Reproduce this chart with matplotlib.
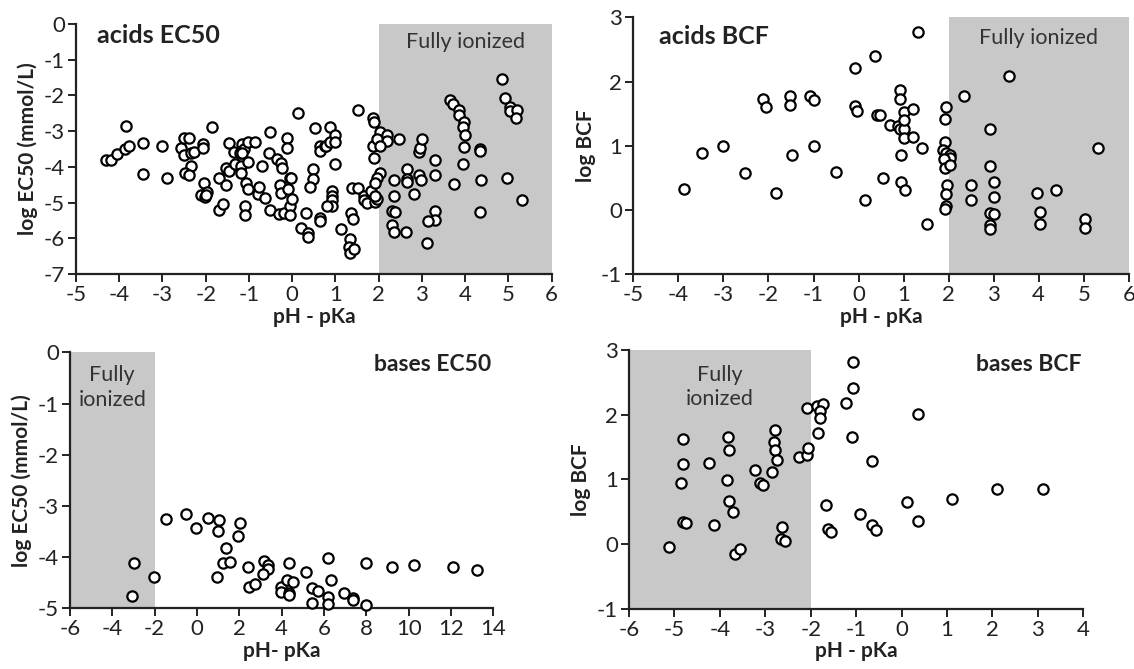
#pH - pKa scatter plots for acids and bases (EC50 and BCF)
import numpy as np
import matplotlib
matplotlib.use('Agg')
import matplotlib.pyplot as plt

plt.rcParams['font.family'] = ['Lato', 'DejaVu Sans']
plt.rcParams['axes.unicode_minus'] = False

#acids EC50
acid_ec50_x = [-4.30, -4.19, -4.06, -3.86, -3.77, -3.85, -3.46, -3.46, -3.00, -2.89,
               -2.56, -2.50, -2.39, -2.50, -2.34, -2.27, -2.34, -2.48, -2.39, -2.06,
               -2.06, -1.85, -2.04, -2.12, -2.02, -1.96, -1.99, -1.69, -1.69, -1.60,
               -1.52, -1.52, -1.47, -1.46, -1.35, -1.33, -1.21, -1.19, -1.19, -1.15,
               -1.11, -1.15, -1.03, -0.86, -1.03, -1.06, -1.03, -1.09, -1.09, -0.80,
               -0.76, -0.71, -0.62, -0.52, -0.53, -0.52, -0.36, -0.29, -0.25, -0.25,
               -0.23, -0.30, -0.19, -0.13, -0.13, -0.09, -0.05, -0.03, -0.05, -0.05,
               0.00, 0.14, 0.20, 0.31, 0.36, 0.36, 0.52,
               0.48, 0.48, 0.41, 0.65, 0.65, 0.75, 0.79, 0.87, 0.88, 1.00,
               1.00, 1.00, 0.92, 0.92, 0.92, 0.92, 0.81, 0.65, 0.65, 1.12,
               1.35, 1.41, 1.33, 1.31, 1.33, 1.42, 1.52, 1.39, 1.52, 1.65,
               1.65, 1.73, 1.82, 1.91, 1.96, 1.92, 1.87, 1.90, 2.04, 2.19,
               2.20, 1.87, 1.96, 2.04, 1.90, 2.02, 1.96, 1.92, 2.46, 2.35,
               2.35, 2.31, 2.37, 2.31, 2.35, 2.62, 2.66, 2.66, 2.66, 2.81,
               2.93, 2.96, 3.00, 2.94, 2.98, 3.31, 3.31, 3.31, 3.31, 3.13,
               3.12, 3.66, 3.71, 3.85, 3.85, 3.97, 3.95, 4.00, 3.97, 3.95,
               3.75, 4.34, 4.34, 4.37, 4.34, 4.85, 4.91, 5.04, 5.04, 5.20,
               5.18, 4.97, 5.31]
acid_ec50_y = [-3.81, -3.81, -3.64, -3.50, -3.41, -2.85, -3.32, -4.21, -3.41, -4.31,
               -3.48, -3.18, -3.18, -3.67, -3.62, -3.58, -3.97, -4.16, -4.22, -3.36,
               -3.48, -2.88, -4.44, -4.79, -4.83, -4.69, -4.79, -4.30, -5.22, -5.03,
               -4.50, -4.02, -4.11, -3.32, -3.57, -3.93, -3.62, -3.97, -4.16, -3.36,
               -3.50, -3.60, -3.29, -3.29, -3.85, -4.44, -4.61, -5.09, -5.35, -4.75,
               -4.56, -3.97, -4.88, -3.01, -3.60, -5.21, -3.79, -4.50, -4.72, -3.88,
               -4.02, -5.33, -5.28, -3.18, -3.48, -4.61, -4.30, -4.32, -5.09, -5.36,
               -4.89, -2.48, -5.70, -5.29, -5.84, -5.95, -2.92,
               -4.05, -4.35, -4.56, -3.41, -3.55, -3.41, -3.41, -2.88, -3.30, -3.11,
               -3.30, -3.93, -4.67, -4.81, -4.93, -5.09, -5.09, -5.42, -5.51, -5.75,
               -5.28, -5.45, -6.03, -6.24, -6.40, -6.31, -2.41, -4.60, -4.58, -4.81,
               -4.93, -5.00, -4.67, -4.97, -4.91, -4.81, -2.62, -2.74, -3.02, -3.11,
               -3.27, -3.41, -3.22, -3.41, -3.74, -4.16, -4.32, -4.44, -3.21, -4.37,
               -4.81, -5.23, -5.26, -5.64, -5.82, -5.82, -4.05, -4.33, -4.42, -4.75,
               -3.58, -3.48, -3.21, -4.23, -4.36, -3.81, -4.23, -5.23, -5.49, -5.51,
               -6.12, -2.13, -2.24, -2.41, -2.55, -2.74, -2.88, -3.11, -3.44, -3.93,
               -4.49, -3.49, -3.55, -4.37, -5.26, -1.54, -2.06, -2.31, -2.43, -2.41,
               -2.62, -4.30, -4.93]

#acids BCF
acid_bcf_x = [-3.87, -3.47, -3.00, -2.51, -2.12, -2.05, -1.84, -1.53, -1.53, -1.48,
              -1.08, -0.99, -0.99, -0.50, -0.07, -0.07, -0.03,
              0.37, 1.33, 0.91, 0.91, 0.41, 0.48, 0.70, 0.87, 0.91, 1.01,
              1.02, 1.02, 1.21, 1.02, 1.21, 1.42, 0.94, 0.15, 0.54, 0.94,
              1.04, 1.52, 1.95, 1.91, 1.92, 1.87, 1.95, 2.03, 2.03, 1.89,
              1.91, 2.02, 1.96, 1.95, 1.95, 1.91, 2.35, 3.33, 2.91, 2.91,
              3.01, 3.01, 2.50, 2.50, 2.92, 3.00, 2.92, 2.91, 3.96, 4.39,
              4.03, 4.03, 5.03, 5.03, 5.31]
acid_bcf_y = [0.33, 0.88, 0.99, 0.57, 1.72, 1.60, 0.27, 1.77, 1.64, 0.85,
              1.78, 1.71, 0.99, 0.59, 2.21, 1.62, 1.54,
              2.39, 2.77, 1.86, 1.73, 1.48, 1.48, 1.32, 1.31, 1.26, 1.26,
              1.53, 1.40, 1.57, 1.12, 1.14, 0.96, 0.85, 0.15, 0.49, 0.43,
              0.31, -0.22, 1.60, 1.42, 1.06, 0.94, 0.89, 0.85, 0.81, 0.79,
              0.65, 0.70, 0.38, 0.24, 0.06, 0.01, 1.77, 2.08, 1.26, 0.69,
              0.44, 0.20, 0.39, 0.15, -0.05, -0.07, -0.23, -0.30, 0.26, 0.31,
              -0.04, -0.22, -0.15, -0.28, 0.96]

#bases EC50
base_ec50_x = [-2.99, -3.05, -2.03, -1.45, -0.50, -0.03, 0.52, 1.04, 0.99, 2.01,
               1.93, 1.35, 1.23, 1.54, 0.94, 2.41, 2.48, 2.75, 3.19, 3.35,
               3.35, 3.11, 3.95, 3.95, 4.26, 4.37, 4.53, 4.37, 4.37, 5.13,
               5.42, 5.72, 5.42, 6.21, 6.31, 6.21, 6.21, 6.97, 7.36, 7.39,
               7.99, 7.99, 9.21, 10.27, 12.08, 13.25]
base_ec50_y = [-4.11, -4.75, -4.38, -3.26, -3.16, -3.44, -3.23, -3.27, -3.49, -3.34,
               -3.58, -3.83, -4.11, -4.09, -4.38, -4.20, -4.58, -4.52, -4.07, -4.15,
               -4.23, -4.32, -4.59, -4.69, -4.45, -4.11, -4.48, -4.71, -4.74, -4.30,
               -4.61, -4.66, -4.90, -4.02, -4.45, -4.77, -4.92, -4.71, -4.80, -4.84,
               -4.12, -4.93, -4.20, -4.15, -4.20, -4.26]

#bases BCF
base_bcf_x = [-5.11, -4.81, -4.81, -4.86, -4.82, -4.75, -4.23, -4.12, -3.82, -3.79,
              -3.85, -3.79, -3.72, -3.66, -3.56, -3.22, -3.11, -3.04, -2.86, -2.79,
              -2.80, -2.79, -2.74, -2.64, -2.66, -2.57, -2.25, -2.09, -2.07, -2.08,
              -1.87, -1.72, -1.80, -1.80, -1.83, -1.67, -1.63, -1.56, -1.23, -1.06,
              -1.06, -1.10, -0.91, -0.65, -0.65, -0.56, 0.11, 0.37, 0.37, 1.10,
              2.11, 3.12]
base_bcf_y = [-0.05, 1.62, 1.23, 0.95, 0.34, 0.32, 1.25, 0.30, 1.65, 1.45,
              0.99, 0.66, 0.50, -0.16, -0.07, 1.15, 0.94, 0.92, 1.12, 1.77,
              1.58, 1.45, 1.30, 0.26, 0.08, 0.04, 1.35, 1.37, 1.48, 2.10,
              2.13, 2.16, 2.06, 1.95, 1.72, 0.60, 0.24, 0.18, 2.18, 2.82,
              2.41, 1.65, 0.46, 1.28, 0.30, 0.22, 0.65, 2.01, 0.35, 0.70,
              0.85, 0.85]

shade = '#c8c8c8'
txt_gray = '#333333'

def style(ax, xlim, ylim, xstep, xlabel, ylabel):
    ax.set_xlim(xlim)
    ax.set_ylim(ylim)
    ax.set_xticks(np.arange(xlim[0], xlim[1] + 0.1, xstep))
    ax.set_yticks(np.arange(ylim[0], ylim[1] + 0.1, 1))
    for s in ['top', 'right']:
        ax.spines[s].set_visible(False)
    for s in ['left', 'bottom']:
        ax.spines[s].set_linewidth(1.6)
        ax.spines[s].set_color('#222222')
    ax.tick_params(direction='out', length=6, width=1.4, labelsize=16,
                   colors='#222222', pad=2)
    ax.set_xlabel(xlabel, fontsize=15, fontweight='bold', color='#222222', labelpad=1)
    ax.set_ylabel(ylabel, fontsize=15, fontweight='bold', color='#222222', labelpad=4)

def dots(ax, x, y):
    ax.scatter(x, y, s=55, facecolors='white', edgecolors='black',
               linewidths=1.6, zorder=3, clip_on=False)

fig = plt.figure(figsize=(11.34, 6.69), dpi=100)

#acids EC50
ax1 = fig.add_axes([0.067, 0.5904, 0.4195, 0.3737])
ax1.axvspan(2, 6, color=shade, zorder=0, lw=0)
dots(ax1, acid_ec50_x, acid_ec50_y)
style(ax1, (-5, 6), (-7, 0), 1, 'pH - pKa', 'log EC50 (mmol/L)')
ax1.text(0.044, 0.956, 'acids EC50', transform=ax1.transAxes, fontsize=18,
         fontweight='bold', va='center', ha='left', color='#222222')
ax1.text(4.0, 0.927, 'Fully ionized', transform=ax1.get_xaxis_transform(),
         fontsize=15.5, ha='center', va='center', color=txt_gray)

#acids BCF
ax2 = fig.add_axes([0.5585, 0.5904, 0.4369, 0.3837])
ax2.axvspan(2, 6, color=shade, zorder=0, lw=0)
dots(ax2, acid_bcf_x, acid_bcf_y)
style(ax2, (-5, 6), (-1, 3), 1, 'pH - pKa', 'log BCF')
ax2.text(0.052, 0.927, 'acids BCF', transform=ax2.transAxes, fontsize=18,
         fontweight='bold', va='center', ha='left', color='#222222')
ax2.text(4.0, 0.92, 'Fully ionized', transform=ax2.get_xaxis_transform(),
         fontsize=15.5, ha='center', va='center', color=txt_gray)

#bases EC50
ax3 = fig.add_axes([0.0617, 0.0907, 0.3733, 0.3827])
ax3.axvspan(-6, -2, color=shade, zorder=0, lw=0)
dots(ax3, base_ec50_x, base_ec50_y)
style(ax3, (-6, 14), (-5, 0), 2, 'pH- pKa', 'log EC50 (mmol/L)')
ax3.text(0.996, 0.953, 'bases EC50', transform=ax3.transAxes, fontsize=16.5,
         fontweight='bold', va='center', ha='right', color='#222222')
ax3.text(-4.0, 0.864, 'Fully\nionized', transform=ax3.get_xaxis_transform(),
         fontsize=15.5, ha='center', va='center', color=txt_gray, linespacing=1.3)

#bases BCF
ax4 = fig.add_axes([0.5547, 0.0901, 0.4006, 0.3867])
ax4.axvspan(-6, -2, color=shade, zorder=0, lw=0)
dots(ax4, base_bcf_x, base_bcf_y)
style(ax4, (-6, 4), (-1, 3), 1, 'pH - pKa', 'log BCF')
ax4.text(0.9965, 0.945, 'bases BCF', transform=ax4.transAxes, fontsize=16.5,
         fontweight='bold', va='center', ha='right', color='#222222')
ax4.text(-4.0, 0.857, 'Fully\nionized', transform=ax4.get_xaxis_transform(),
         fontsize=15.5, ha='center', va='center', color=txt_gray, linespacing=1.3)

fig.savefig('out.png', dpi=100)
